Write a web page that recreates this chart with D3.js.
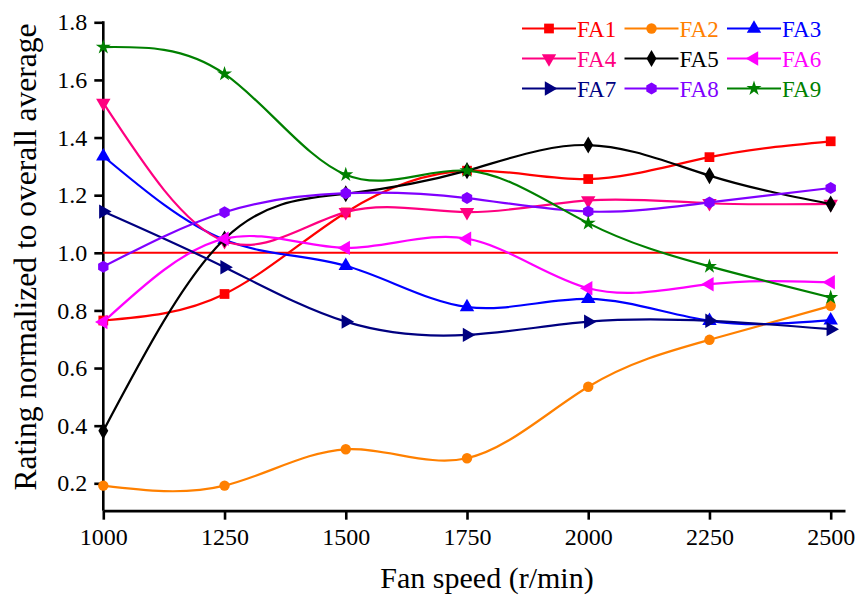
<!DOCTYPE html>
<html>
<head>
<meta charset="utf-8">
<script src="https://cdn.jsdelivr.net/npm/d3@7"></script>
<style>
	body { margin: 0; background: #fff; }
	svg text { font-family: "Liberation Serif", "Times New Roman", Times, serif; }
</style>
</head>
<body>
<svg id="chart"></svg>
<script>
const WIDTH = 858;
const HEIGHT = 595;
const FONT = '"Liberation Serif", "Times New Roman", Times, serif';

// fan speeds (r/min)
const speeds = [1000, 1250, 1500, 1750, 2000, 2250, 2500];
const yTicks = [0.2, 0.4, 0.6, 0.8, 1.0, 1.2, 1.4, 1.6, 1.8];

// ratings normalized to overall average
const FA1 = [0.765, 0.857, 1.14, 1.285, 1.256, 1.332, 1.387];
const FA2 = [0.192, 0.192, 0.318, 0.287, 0.535, 0.698, 0.816];
const FA3 = [1.335, 1.045, 0.955, 0.812, 0.84, 0.764, 0.766];
const FA4 = [1.52, 1.04, 1.141, 1.141, 1.182, 1.172, 1.17];
const FA5 = [0.382, 1.048, 1.205, 1.285, 1.374, 1.268, 1.169];
const FA6 = [0.76, 1.049, 1.017, 1.049, 0.877, 0.891, 0.898];
const FA7 = [1.143, 0.95, 0.761, 0.715, 0.761, 0.764, 0.735];
const FA8 = [0.952, 1.141, 1.207, 1.19, 1.143, 1.175, 1.225];
const FA9 = [1.714, 1.621, 1.271, 1.285, 1.103, 0.953, 0.845];

const seriesNames = ['FA1', 'FA2', 'FA3', 'FA4', 'FA5', 'FA6', 'FA7', 'FA8', 'FA9'];
const seriesValues = [FA1, FA2, FA3, FA4, FA5, FA6, FA7, FA8, FA9];
const seriesColors = ['#ff0000', '#ff8000', '#0000ff', '#ff0080', '#000000', '#ff00ff', '#000080', '#8000ff', '#008000'];

// overall average reference
const refLevel = 1.0;
const refSpan = [1000, 2515];

const x = d3.scaleLinear().domain([1000, 2529.5]).range([103.3, 845]);
const y = d3.scaleLinear().domain([0.2, 1.8]).range([483.3, 22.3]);

const svg = d3.select('#chart').attr('width', WIDTH).attr('height', HEIGHT);

// marker shapes, one per series
const hexagon = (r) => {
	const pts = d3.range(6).map((i) => {
		const a = Math.PI / 6 + (i * Math.PI) / 3;
		return [r * Math.cos(a), r * Math.sin(a)];
	});
	return 'M' + pts.join('L') + 'Z';
};
const markers = [
	{ path: d3.symbol(d3.symbolSquare, 95)(), rotate: 0 },
	{ path: d3.symbol(d3.symbolCircle, 85)(), rotate: 0 },
	{ path: d3.symbol(d3.symbolTriangle, 90)(), rotate: 0 },
	{ path: d3.symbol(d3.symbolTriangle, 90)(), rotate: 180 },
	{ path: d3.symbol(d3.symbolDiamond, 85)(), rotate: 0 },
	{ path: d3.symbol(d3.symbolTriangle, 90)(), rotate: -90 },
	{ path: d3.symbol(d3.symbolTriangle, 90)(), rotate: 90 },
	{ path: hexagon(6), rotate: 0 },
	{ path: d3.symbol(d3.symbolStar, 70)(), rotate: 0 }
];

const series = seriesNames.map((name, i) => ({
	name,
	color: seriesColors[i],
	marker: markers[i],
	points: speeds.map((s, j) => ({ s, v: seriesValues[i][j] }))
}));

// AXES
const xAxis = svg
	.append('g')
	.attr('transform', `translate(0,${y(0.105)})`)
	.call(d3.axisBottom(x).tickValues(speeds).tickFormat(d3.format('d')).tickSize(9).tickSizeOuter(0).tickPadding(8));
const yAxis = svg
	.append('g')
	.attr('transform', `translate(${x(1000)},0)`)
	.call(d3.axisLeft(y).tickValues(yTicks).tickFormat(d3.format('.1f')).tickSize(9).tickSizeOuter(0).tickPadding(7));
yAxis.select('.domain').attr('d', `M0,${y(1.8) - 1}V${y(0.105)}`);

[xAxis, yAxis].forEach((a) => {
	a.attr('font-family', FONT);
	a.select('.domain').attr('stroke', '#000').attr('stroke-width', 2.6);
	a.selectAll('.tick line').attr('stroke', '#000').attr('stroke-width', 2.6);
	a.selectAll('.tick text').attr('fill', '#000').attr('font-size', '24px');
});

svg
	.append('text')
	.attr('x', 487)
	.attr('y', 588)
	.attr('text-anchor', 'middle')
	.attr('font-family', FONT)
	.attr('font-size', '30px')
	.text('Fan speed (r/min)');

svg
	.append('text')
	.attr('transform', 'translate(36,257) rotate(-90)')
	.attr('text-anchor', 'middle')
	.attr('font-family', FONT)
	.attr('font-size', '31.5px')
	.text('Rating normalized to overall average');

const plot = svg.append('g');

// reference line at 1.0
plot
	.append('line')
	.attr('x1', x(refSpan[0]))
	.attr('x2', x(refSpan[1]))
	.attr('y1', y(refLevel))
	.attr('y2', y(refLevel))
	.attr('stroke', '#ff0000')
	.attr('stroke-width', 2);

const line = d3
	.line()
	.x((d) => x(d.s))
	.y((d) => y(d.v))
	.curve(d3.curveNatural);

const groups = plot
	.selectAll('g.series')
	.data(series)
	.enter()
	.append('g')
	.attr('class', 'series');

groups
	.append('path')
	.attr('d', (d) => line(d.points))
	.attr('fill', 'none')
	.attr('stroke', (d) => d.color)
	.attr('stroke-width', 2.2);

groups
	.selectAll('path.marker')
	.data((d) => d.points.map((p) => ({ ...p, color: d.color, marker: d.marker })))
	.enter()
	.append('path')
	.attr('class', 'marker')
	.attr('d', (d) => d.marker.path)
	.attr('transform', (d) => `translate(${x(d.s)},${y(d.v)}) rotate(${d.marker.rotate})`)
	.attr('fill', (d) => d.color);

// LEGEND (3 x 3)
const legend = svg
	.append('g')
	.selectAll('g')
	.data(series)
	.enter()
	.append('g')
	.attr('transform', (d, i) => `translate(${522 + (i % 3) * 102.5},${28.5 + Math.floor(i / 3) * 30})`);

legend
	.append('line')
	.attr('x1', 0)
	.attr('x2', 54)
	.attr('stroke', (d) => d.color)
	.attr('stroke-width', 2.2);

legend
	.append('path')
	.attr('d', (d) => d.marker.path)
	.attr('transform', (d) => `translate(27,0) rotate(${d.marker.rotate})`)
	.attr('fill', (d) => d.color);

legend
	.append('text')
	.attr('x', 55)
	.attr('dy', '0.35em')
	.attr('font-family', FONT)
	.attr('font-size', '23px')
	.attr('fill', (d) => d.color)
	.text((d) => d.name);
</script>
</body>
</html>
